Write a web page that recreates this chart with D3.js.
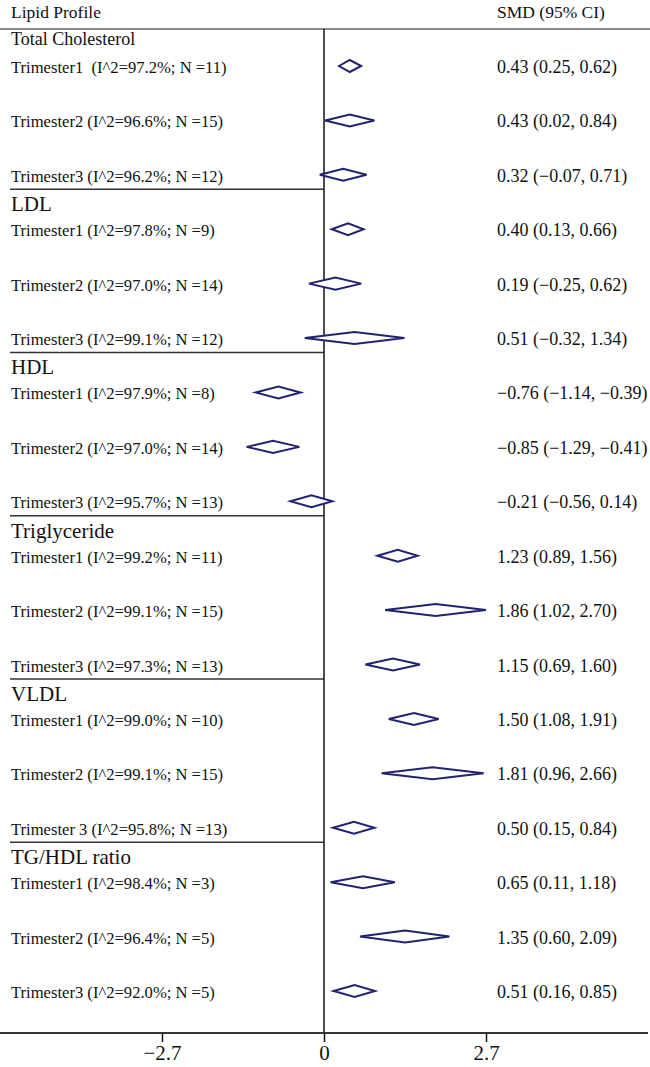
<!DOCTYPE html>
<html>
<head>
<meta charset="utf-8">
<script src="https://cdn.jsdelivr.net/npm/d3@7"></script>
<style>
  html, body { margin: 0; padding: 0; background: #fff; }
  svg { display: block; }
  text { font-family: "Liberation Serif", "DejaVu Serif", serif; fill: #111; white-space: pre; }
</style>
</head>
<body>
<svg id="chart" width="650" height="1067"></svg>
<script>
// ---- data ----
const groups = ["Total Cholesterol", "LDL", "HDL", "Triglyceride", "VLDL", "TG/HDL ratio"];
const rowLabels = [
  "Trimester1  (I^2=97.2%; N =11)", "Trimester2 (I^2=96.6%; N =15)", "Trimester3 (I^2=96.2%; N =12)",
  "Trimester1 (I^2=97.8%; N =9)",   "Trimester2 (I^2=97.0%; N =14)", "Trimester3 (I^2=99.1%; N =12)",
  "Trimester1 (I^2=97.9%; N =8)",   "Trimester2 (I^2=97.0%; N =14)", "Trimester3 (I^2=95.7%; N =13)",
  "Trimester1 (I^2=99.2%; N =11)",  "Trimester2 (I^2=99.1%; N =15)", "Trimester3 (I^2=97.3%; N =13)",
  "Trimester1 (I^2=99.0%; N =10)",  "Trimester2 (I^2=99.1%; N =15)", "Trimester 3 (I^2=95.8%; N =13)",
  "Trimester1 (I^2=98.4%; N =3)",   "Trimester2 (I^2=96.4%; N =5)",  "Trimester3 (I^2=92.0%; N =5)"
];
const smd   = [0.43, 0.43, 0.32,  0.40, 0.19, 0.51,  -0.76, -0.85, -0.21,  1.23, 1.86, 1.15,  1.50, 1.81, 0.50,  0.65, 1.35, 0.51];
const lower = [0.25, 0.02, -0.07, 0.13, -0.25, -0.32, -1.14, -1.29, -0.56, 0.89, 1.02, 0.69,  1.08, 0.96, 0.15,  0.11, 0.60, 0.16];
const upper = [0.62, 0.84, 0.71,  0.66, 0.62, 1.34,  -0.39, -0.41, 0.14,  1.56, 2.70, 1.60,  1.91, 2.66, 0.84,  1.18, 2.09, 0.85];
const tickValues = [-2.7, 0, 2.7];
const tickLabels = ["\u22122.7", "0", "2.7"];
const headerLeft = "Lipid Profile";
const headerRight = "SMD (95% CI)";

// ---- layout ----
const svg = d3.select("#chart");
const x = d3.scaleLinear().domain([-2.7, 2.7]).range([162, 486]);
const y = d3.scaleLinear().domain([0, 17]).range([67, 992]);
const navy = "#22226e";
const fmt = d3.format(".2f");
const f = v => fmt(v).replace("-", "\u2212");

// header
svg.append("text").attr("x", 11).attr("y", 18).attr("font-size", 17.5).text(headerLeft);
svg.append("text").attr("x", 497).attr("y", 18).attr("font-size", 17.5).text(headerRight);
svg.append("line").attr("x1", 0).attr("x2", 650).attr("y1", 29).attr("y2", 29)
  .attr("stroke", "#8a8a8a").attr("stroke-width", 2);

// group labels and separators
groups.forEach((g, gi) => {
  const firstRow = gi * 3;
  svg.append("text").attr("x", 11).attr("y", y(firstRow) - (gi === 0 ? 22 : 19))
    .attr("font-size", gi === 0 ? 18 : 21).text(g);
  if (gi > 0) {
    svg.append("line").attr("x1", 10).attr("x2", x(0)).attr("y1", y(firstRow - 1) + 13.5).attr("y2", y(firstRow - 1) + 13.5)
      .attr("stroke", "#333").attr("stroke-width", 1.6);
  }
});

// row labels and value text
rowLabels.forEach((lab, i) => {
  svg.append("text").attr("x", 11).attr("y", y(i) + 6).attr("font-size", 16.6).text(lab);
  svg.append("text").attr("x", 497).attr("y", y(i) + 6).attr("font-size", 18)
    .text(`${f(smd[i])} (${f(lower[i])}, ${f(upper[i])})`);
});

// zero line
svg.append("line").attr("x1", x(0)).attr("x2", x(0)).attr("y1", 29).attr("y2", 1033)
  .attr("stroke", "#111").attr("stroke-width", 1.5);

// diamonds
svg.append("g").selectAll("path").data(d3.range(smd.length)).join("path")
  .attr("d", i => {
    const cy = y(i) - 1, h = 6;
    return `M${x(lower[i])},${cy} L${x(smd[i])},${cy - h} L${x(upper[i])},${cy} L${x(smd[i])},${cy + h} Z`;
  })
  .attr("fill", "white").attr("stroke", navy).attr("stroke-width", 2).attr("stroke-linejoin", "miter");

// axis
const axisY = 1033;
const axis = d3.axisBottom(x).tickValues(tickValues).tickSize(9).tickFormat((d, i) => tickLabels[i]);
const ag = svg.append("g").attr("transform", `translate(0,${axisY})`).call(axis);
ag.select(".domain").remove();
ag.selectAll(".tick line").attr("stroke", "#111").attr("stroke-width", 1.5);
ag.selectAll(".tick text").attr("font-size", 21).attr("font-family", "Liberation Serif, serif")
  .attr("fill", "#111").attr("y", 12).attr("dy", "0.71em");
svg.append("line").attr("x1", 0).attr("x2", 648).attr("y1", axisY).attr("y2", axisY)
  .attr("stroke", "#333").attr("stroke-width", 2);
</script>
</body>
</html>
